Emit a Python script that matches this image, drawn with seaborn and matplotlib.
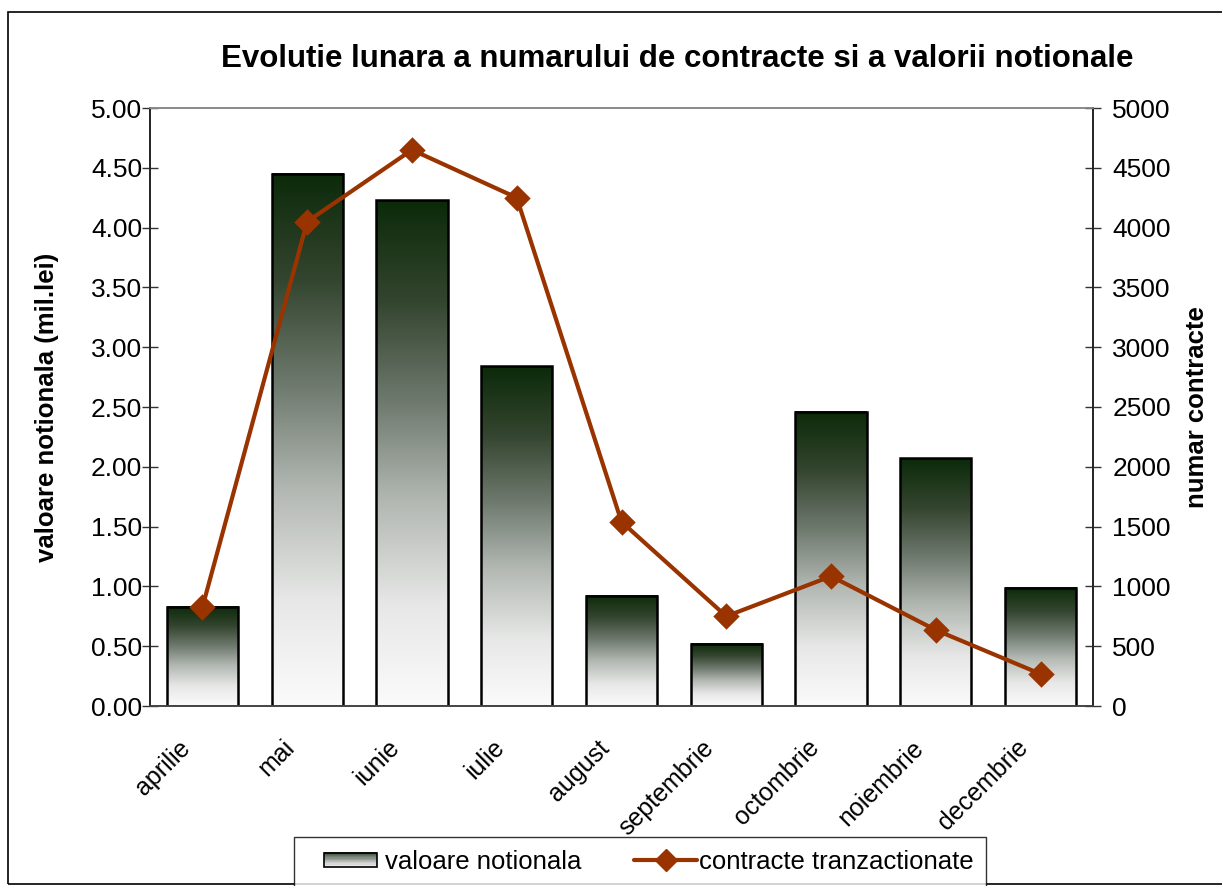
import numpy as np
import pandas as pd
import matplotlib
matplotlib.use("Agg")
import matplotlib.pyplot as plt
import seaborn as sns
from matplotlib.colors import LinearSegmentedColormap
from matplotlib.patches import Rectangle
from matplotlib.lines import Line2D
from matplotlib.legend_handler import HandlerBase, HandlerLine2D
from matplotlib.transforms import ScaledTranslation

months = ["aprilie", "mai", "iunie", "iulie", "august", "septembrie",
          "octombrie", "noiembrie", "decembrie"]
notional = [0.83, 4.45, 4.23, 2.84, 0.92, 0.52, 2.46, 2.07, 0.99]
contracts = [825, 4050, 4650, 4250, 1540, 750, 1085, 635, 268]

title = "Evolutie lunara a numarului de contracte si a valorii notionale"
left_label = "valoare notionala (mil.lei)"
right_label = "numar contracte"
bar_name = "valoare notionala"
line_name = "contracte tranzactionate"

line_color = "#993300"
grad = LinearSegmentedColormap.from_list(
    "grad", ["#fbfbfb", "#e6e7e6", "#b4b9b4", "#6f7a6f", "#34452f", "#0c2a0a"])

sns.set_style("white")
plt.rcParams["font.family"] = ["Liberation Sans", "DejaVu Sans"]
plt.rcParams["text.color"] = "black"
plt.rcParams["xtick.color"] = "black"
plt.rcParams["ytick.color"] = "black"
plt.rcParams["axes.labelcolor"] = "black"


class GradientHandler(HandlerBase):
    # small gradient box for the bar series in the legend
    def create_artists(self, legend, orig_handle, xdescent, ydescent,
                       width, height, fontsize, trans):
        artists = []
        n = 12
        h = height * 0.8
        y0 = -ydescent + (height - h) / 2
        x0 = -xdescent + 0.22 * width
        w = 0.69 * width
        for i in range(n):
            c = grad(0.15 + 0.6 * i / (n - 1))
            artists.append(Rectangle((x0, y0 + h * i / n), w, h / n + 0.3,
                                     facecolor=c, edgecolor="none",
                                     transform=trans))
        artists.append(Rectangle((x0, y0), w, h, facecolor="none",
                                 edgecolor="black", linewidth=1.2,
                                 transform=trans))
        return artists


fig = plt.figure(figsize=(12.22, 8.86), dpi=100)
ax = fig.add_axes([150 / 1222, 1 - 706 / 886, 943 / 1222, 598 / 886])

df = pd.DataFrame({"luna": months, "valoare": notional, "contracte": contracts})
sns.barplot(data=df, x="luna", y="valoare", ax=ax, width=0.68,
            color="white", edgecolor="black", linewidth=1.8, zorder=2)

# gradient fill clipped to each bar
gradient = np.linspace(1, 0, 256).reshape(-1, 1)
for p in ax.patches:
    x0, y0 = p.get_x(), p.get_y()
    w, h = p.get_width(), p.get_height()
    ax.imshow(gradient, extent=[x0, x0 + w, y0, y0 + h], aspect="auto",
              cmap=grad, vmin=0, vmax=1, zorder=1.5, interpolation="bicubic")
    p.set_facecolor("none")

ax.set_xlim(-0.5, len(months) - 0.5)
ax.set_ylim(0, 5)
ax.set_yticks(np.arange(0, 5.01, 0.5))
ax.set_yticklabels([f"{v:.2f}" for v in np.arange(0, 5.01, 0.5)])
ax.set_xlabel("")
ax.set_ylabel(left_label, fontsize=18.5, fontweight="bold", labelpad=23)

ax.set_xticks(np.arange(len(months)))
ax.set_xticklabels(months, rotation=45, ha="right", va="baseline",
                   rotation_mode="anchor")
ax.set_xticks(np.arange(-0.5, len(months)), minor=True)
ax.tick_params(axis="x", which="major", length=0, labelsize=18, pad=31)
ax.tick_params(axis="x", which="minor", length=12, direction="inout",
               width=1, color="#333333")
ax.tick_params(axis="y", length=12, direction="inout", width=1,
               labelsize=19, pad=-0.5, color="#333333", left=True)
shift = ScaledTranslation(-11 / 100, 0, fig.dpi_scale_trans)
for lbl in ax.get_xticklabels():
    lbl.set_transform(lbl.get_transform() + shift)

ax2 = ax.twinx()
sns.pointplot(data=df, x="luna", y="contracte", ax=ax2, color=line_color,
              markers="D", markersize=11, linewidth=3, zorder=4)
ax2.set_xlim(-0.5, len(months) - 0.5)
ax2.set_ylim(0, 5000)
ax2.set_yticks(np.arange(0, 5001, 500))
ax2.set_ylabel(right_label, fontsize=18.5, fontweight="bold", labelpad=10)
ax2.set_xlabel("")
ax2.tick_params(axis="y", length=12, direction="inout", width=1,
                labelsize=19, pad=8, color="#333333", right=True)

for a in (ax, ax2):
    a.spines["top"].set_color("#8a8a8a")
    a.spines["left"].set_color("#222222")
    a.spines["right"].set_color("#222222")
    a.spines["bottom"].set_color("#444444")
    for s in a.spines.values():
        s.set_linewidth(1.2)
        s.set_visible(True)

fig.text(677 / 1222, 1 - 59 / 886, title, fontsize=22.5, fontweight="bold",
         ha="center", va="center")

bar_handle = Rectangle((0, 0), 1, 1)
line_handle = Line2D([], [], color=line_color, linewidth=3, marker="D",
                     markersize=11)
leg = fig.legend([bar_handle, line_handle], [bar_name, line_name], ncol=2,
                 loc="upper center", bbox_to_anchor=(640 / 1222, 1 - 837 / 886),
                 fontsize=18.5, frameon=True, fancybox=False, edgecolor="black",
                 handler_map={Rectangle: GradientHandler(),
                              Line2D: HandlerLine2D(xpad=0.55)},
                 handlelength=3.0, handletextpad=0.05, columnspacing=1.5,
                 borderpad=0.5, borderaxespad=0)
leg.get_frame().set_linewidth(1.0)

fig.patches.append(Rectangle((8 / 1222, 2 / 886), 1.2, 872 / 886,
                             transform=fig.transFigure, fill=False,
                             edgecolor="black", linewidth=1.2, zorder=0))

fig.savefig("out.png", dpi=100)
